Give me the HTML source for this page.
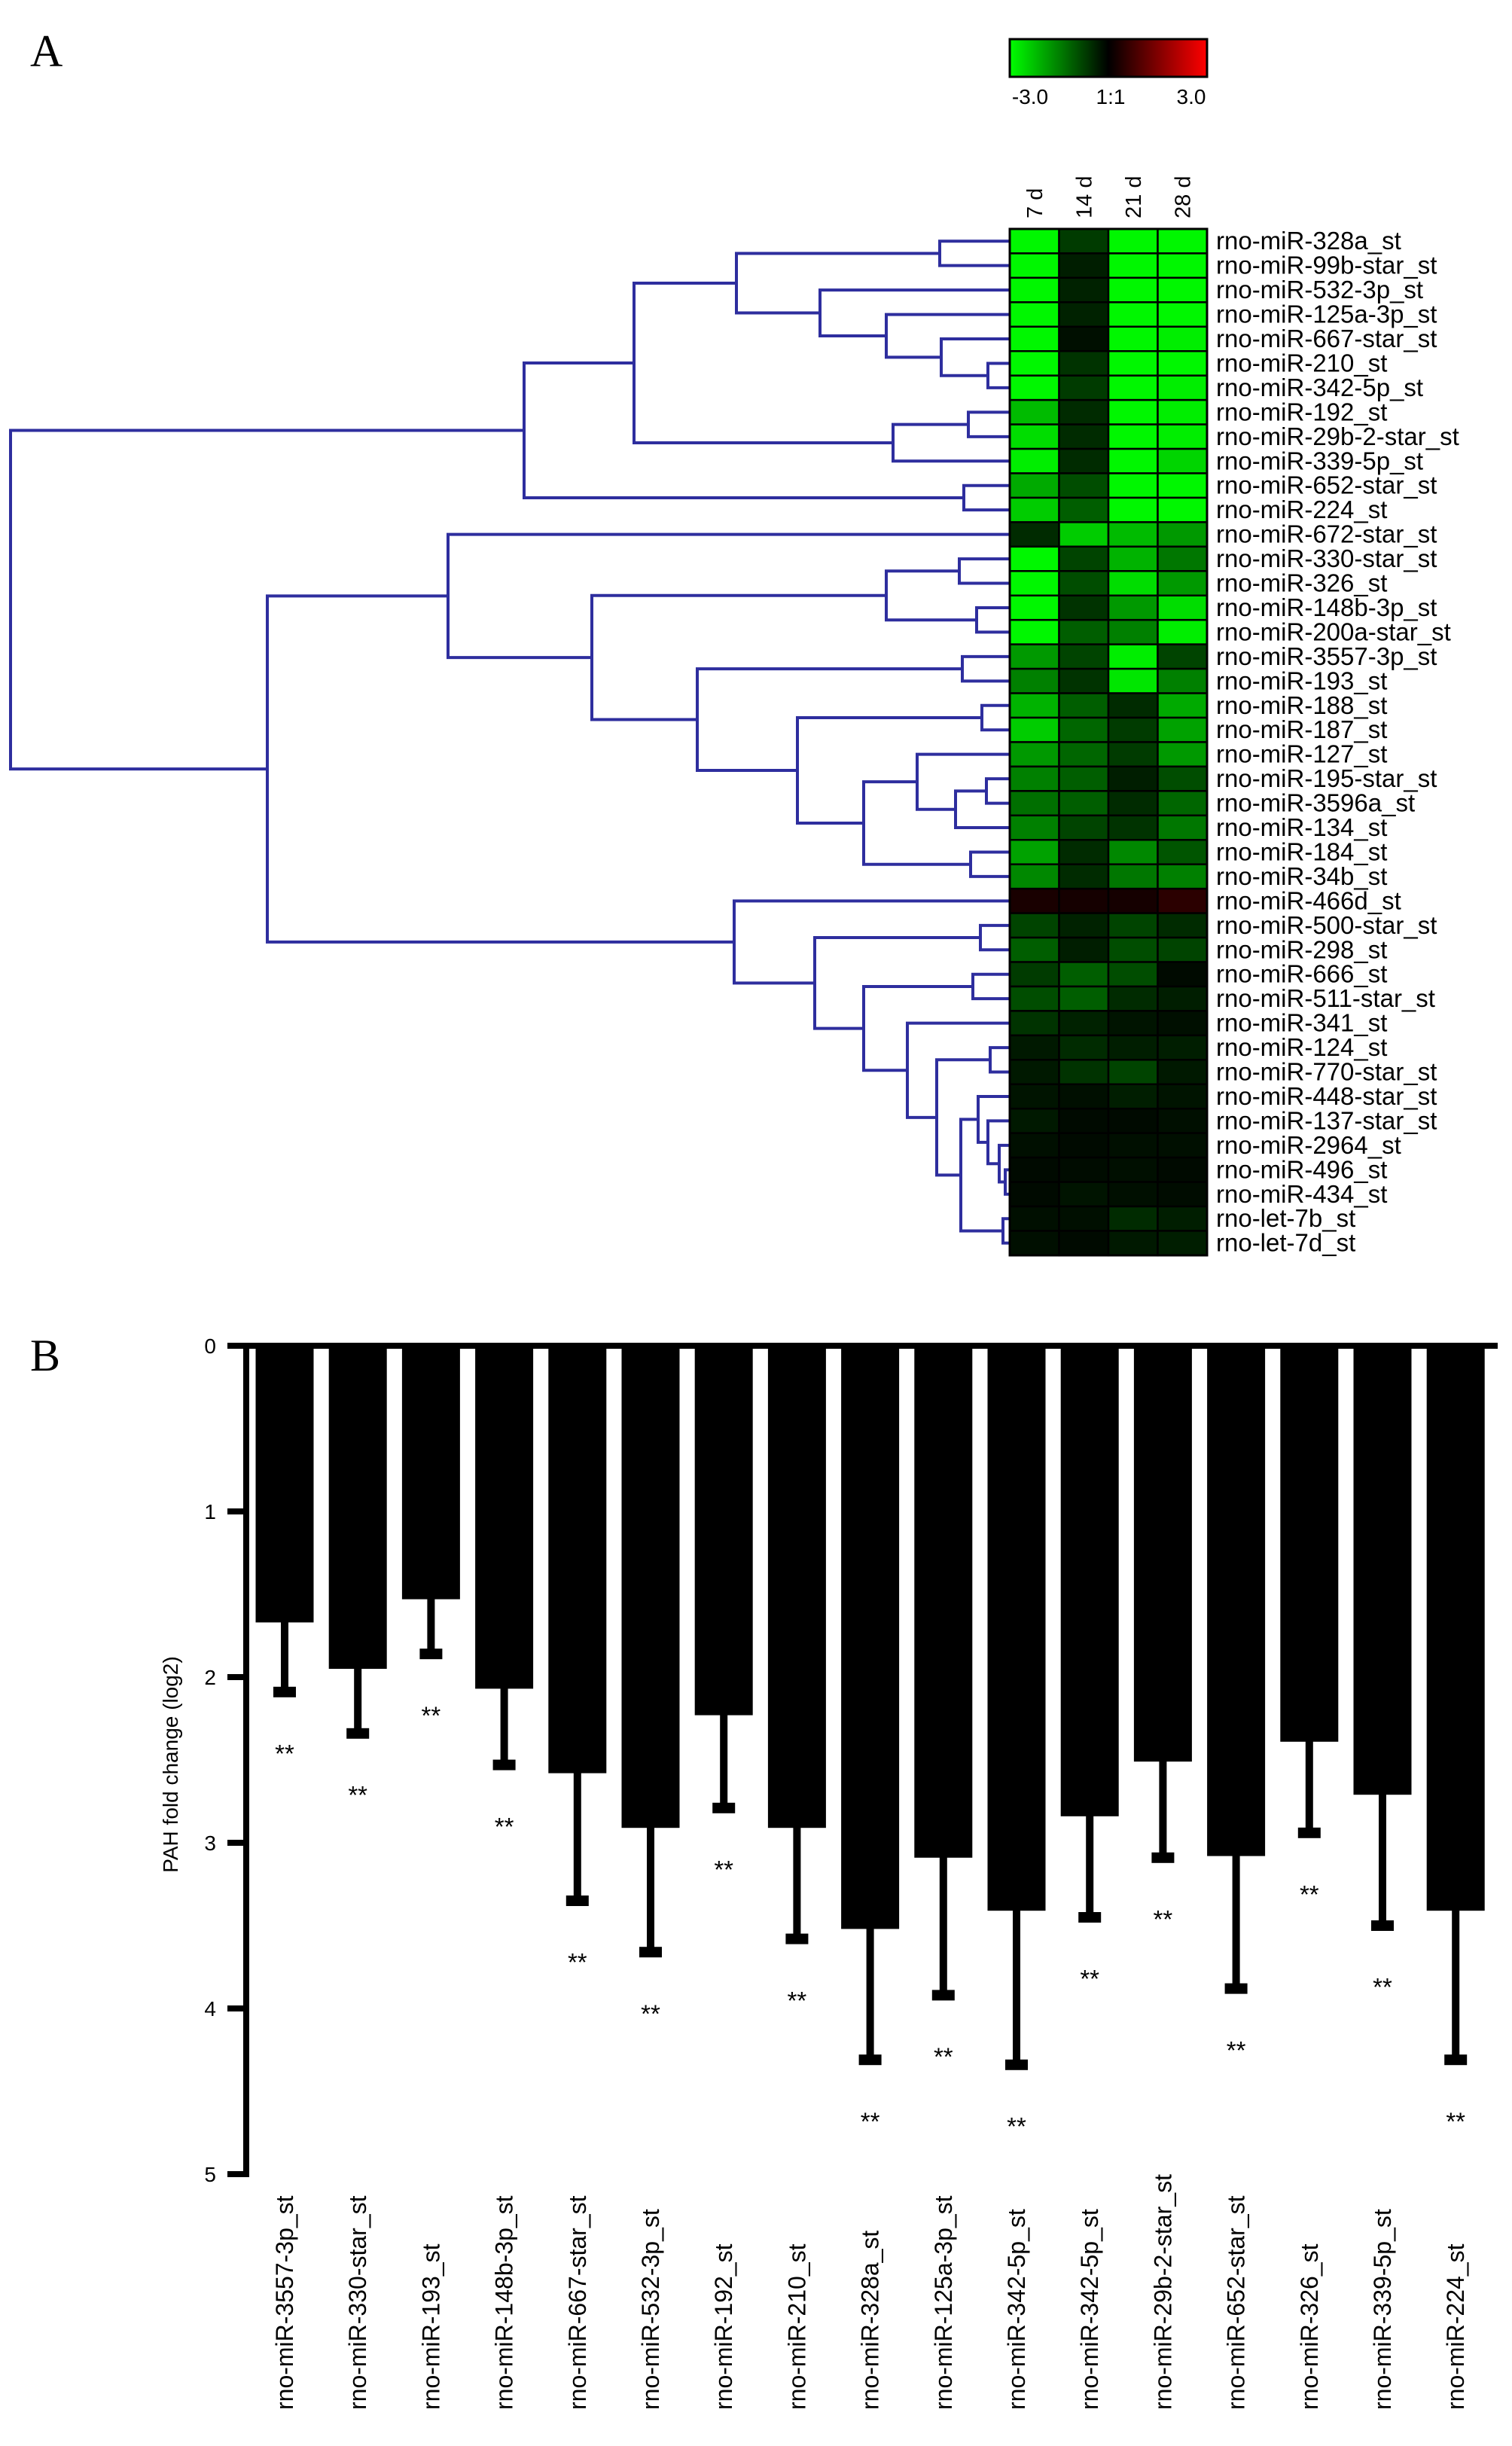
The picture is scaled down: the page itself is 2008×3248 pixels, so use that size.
<!DOCTYPE html>
<html><head><meta charset="utf-8"><style>
html,body{margin:0;padding:0;background:#fff;}
svg{display:block;font-family:"Liberation Sans",sans-serif;}
</style></head><body>
<svg id="fig" width="2008" height="3248" viewBox="0 0 2008 3248" xmlns="http://www.w3.org/2000/svg">
<defs><linearGradient id="cb" x1="0" x2="1" y1="0" y2="0"><stop offset="0" stop-color="#00ff00"/><stop offset="0.5" stop-color="#000"/><stop offset="1" stop-color="#ff0000"/></linearGradient></defs>
<text x="40" y="88" font-family="Liberation Serif" font-size="60">A</text>
<text x="40" y="1820" font-family="Liberation Serif" font-size="60">B</text>
<g>
<rect x="1341" y="52" width="262" height="50" fill="url(#cb)" stroke="#000" stroke-width="3"/>
<text x="1368" y="138" font-size="28" text-anchor="middle">-3.0</text>
<text x="1475" y="138" font-size="28" text-anchor="middle">1:1</text>
<text x="1582" y="138" font-size="28" text-anchor="middle">3.0</text>
</g>
<g id="dendro"></g>
<g id="heat"></g>
<g id="bars"></g>
</svg>
<script>
const NS="http://www.w3.org/2000/svg";
// ---- heatmap data ----
const timepoints=["7 d","14 d","21 d","28 d"];
const mirnas=["rno-miR-328a_st","rno-miR-99b-star_st","rno-miR-532-3p_st","rno-miR-125a-3p_st","rno-miR-667-star_st","rno-miR-210_st","rno-miR-342-5p_st","rno-miR-192_st","rno-miR-29b-2-star_st","rno-miR-339-5p_st","rno-miR-652-star_st","rno-miR-224_st","rno-miR-672-star_st","rno-miR-330-star_st","rno-miR-326_st","rno-miR-148b-3p_st","rno-miR-200a-star_st","rno-miR-3557-3p_st","rno-miR-193_st","rno-miR-188_st","rno-miR-187_st","rno-miR-127_st","rno-miR-195-star_st","rno-miR-3596a_st","rno-miR-134_st","rno-miR-184_st","rno-miR-34b_st","rno-miR-466d_st","rno-miR-500-star_st","rno-miR-298_st","rno-miR-666_st","rno-miR-511-star_st","rno-miR-341_st","rno-miR-124_st","rno-miR-770-star_st","rno-miR-448-star_st","rno-miR-137-star_st","rno-miR-2964_st","rno-miR-496_st","rno-miR-434_st","rno-let-7b_st","rno-let-7d_st"];
const ratio7d=[-2.9,-2.9,-2.9,-2.9,-2.9,-2.9,-2.9,-2.2,-2.6,-2.8,-2.0,-2.4,-0.5,-2.9,-2.9,-2.9,-2.9,-1.8,-1.5,-2.1,-2.4,-1.8,-1.5,-1.3,-1.5,-1.9,-1.6,0.3,-0.8,-1.1,-0.7,-0.9,-0.6,-0.3,-0.3,-0.24,-0.3,-0.18,-0.12,-0.12,-0.18,-0.18];
const ratio14d=[-0.7,-0.35,-0.4,-0.4,-0.18,-0.6,-0.7,-0.5,-0.5,-0.5,-0.9,-1.1,-2.4,-0.8,-0.9,-0.6,-1.1,-0.8,-0.6,-1.1,-1.2,-1.2,-1.1,-1.1,-0.8,-0.5,-0.5,0.25,-0.4,-0.35,-1.1,-1.1,-0.4,-0.5,-0.6,-0.18,-0.12,-0.12,-0.14,-0.24,-0.18,-0.12];
const ratio21d=[-2.9,-2.9,-2.9,-2.9,-2.9,-2.9,-2.9,-2.9,-2.9,-2.9,-2.9,-2.9,-2.2,-2.1,-2.6,-1.8,-1.5,-2.8,-2.7,-0.5,-0.7,-0.7,-0.35,-0.5,-0.6,-1.6,-1.4,0.25,-0.8,-0.9,-0.9,-0.5,-0.24,-0.35,-0.8,-0.35,-0.12,-0.18,-0.18,-0.18,-0.5,-0.3];
const ratio28d=[-2.9,-2.9,-2.9,-2.9,-2.8,-2.9,-2.8,-2.8,-2.8,-2.5,-2.9,-2.9,-1.8,-1.4,-1.8,-2.6,-2.8,-0.8,-1.5,-2.0,-1.9,-1.8,-0.9,-1.2,-1.4,-1.0,-1.5,0.5,-0.5,-0.8,-0.12,-0.35,-0.18,-0.35,-0.3,-0.24,-0.18,-0.18,-0.12,-0.14,-0.35,-0.35];
const ratioCols=[ratio7d,ratio14d,ratio21d,ratio28d];
// dendrogram merges: [height-x, left, right]
const tree=[14,
 [696,[842,[978,[1248,0,1],[1089,2,[1177,3,[1250,4,[1312,5,6]]]]],[1186,[1286,7,8],9]],[1280,10,11]],
 [355,
  [595,12,[786,[1177,[1274,13,14],[1297,15,16]],[926,[1278,17,18],[1059,[1304,19,20],[1147,[1218,21,[1269,[1310,22,23],24]],[1289,25,26]]]]]],
  [975,27,[1082,[1302,28,29],[1147,[1292,30,31],[1205,32,[1244,[1315,33,34],[1276,[1299,35,[1312,36,[1327,37,[1335,38,39]]]],[1332,40,41]]]]]]]]];
// ---- bar chart data ----
const barLabels=["rno-miR-3557-3p_st","rno-miR-330-star_st","rno-miR-193_st","rno-miR-148b-3p_st","rno-miR-667-star_st","rno-miR-532-3p_st","rno-miR-192_st","rno-miR-210_st","rno-miR-328a_st","rno-miR-125a-3p_st","rno-miR-342-5p_st","rno-miR-342-5p_st","rno-miR-29b-2-star_st","rno-miR-652-star_st","rno-miR-326_st","rno-miR-339-5p_st","rno-miR-224_st"];
const foldChange=[1.67,1.95,1.53,2.07,2.58,2.91,2.23,2.91,3.52,3.09,3.41,2.84,2.51,3.08,2.39,2.71,3.41];
const errTop=[2.09,2.34,1.86,2.53,3.35,3.66,2.79,3.58,4.31,3.92,4.34,3.45,3.09,3.88,2.94,3.50,4.31];
const yTicks=[0,1,2,3,4,5];

function el(tag,attrs,parent){const e=document.createElementNS(NS,tag);for(const k in attrs)e.setAttribute(k,attrs[k]);parent.appendChild(e);return e;}

// heatmap
const hm=document.getElementById('heat');
const hx0=1341,hy0=304,cw=65.5,rh=32.45;
function cellColor(v){const t=Math.min(1,Math.abs(v)/3);const c=Math.round(255*t);return v<0?`rgb(0,${c},0)`:`rgb(${c},0,0)`;}
const rowY=i=>hy0+rh*(i+0.5);
ratioCols.forEach((col,j)=>{
  const t=el('text',{x:hx0+cw*(j+0.5)+10,y:290,'font-size':29,transform:`rotate(-90 ${hx0+cw*(j+0.5)+10} 290)`},hm);
  
  
  t.textContent=timepoints[j];
  col.forEach((v,i)=>{
    const r=el('rect',{x:hx0+cw*j,y:hy0+rh*i,width:cw,height:rh,fill:cellColor(v),stroke:'#000','stroke-width':2.5},hm);
    
    
  });
});
el('rect',{x:hx0,y:hy0,width:cw*4,height:rh*42,fill:'none',stroke:'#000','stroke-width':3},hm);
mirnas.forEach((m,i)=>{
  const t=el('text',{x:1615,y:rowY(i)+11,'font-size':33},hm);
  
  
  t.textContent=m;
});
// dendrogram
const dg=document.getElementById('dendro');
function draw(n){
  if(typeof n==='number') return {x:hx0,y:rowY(n)};
  const a=draw(n[1]),b=draw(n[2]),x=n[0];
  const p=el('path',{d:`M${a.x},${a.y}H${x}V${b.y}H${b.x}`,fill:'none',stroke:'#2e2e9e','stroke-width':4},dg);
  
  
  return {x:x,y:(a.y+b.y)/2};
}
draw(tree);

// bar chart
const bg=document.getElementById('bars');
const y0=1787,unit=220,ax=327,cx0=378,pitch=97.2,bw=77;
const yS=v=>y0+v*unit, xS=i=>cx0+pitch*i;
foldChange.forEach((v,i)=>{
  const cx=xS(i);
  const r=el('rect',{x:cx-bw/2,y:y0,width:bw,height:yS(v)-y0,fill:'#000'},bg);
  
  
  const s=el('rect',{x:cx-5,y:yS(v)-1,width:10,height:yS(errTop[i])-yS(v)+1,fill:'#000'},bg);
  
  
  const c=el('rect',{x:cx-15,y:yS(errTop[i])-7,width:30,height:14,fill:'#000'},bg);
  
  
  const st=el('text',{x:cx,y:yS(errTop[i])+0.36*unit+14,'font-size':33,'text-anchor':'middle'},bg);
  
  
  st.textContent='**';
  const lx=cx+11,ly=3200;
  const lb=el('text',{x:lx,y:ly,'font-size':32,'text-anchor':'start',transform:`rotate(-90 ${lx} ${ly})`},bg);
  
  
  lb.textContent=barLabels[i];
});
const ya=el('rect',{x:ax-4,y:y0-4,width:8,height:yS(5)-y0+8,fill:'#000'},bg);


const xa=el('rect',{x:302,y:y0-4,width:1687,height:8,fill:'#000'},bg);


yTicks.forEach(v=>{
  const t=el('rect',{x:302,y:yS(v)-4,width:25,height:8,fill:'#000'},bg);
  
  
  const l=el('text',{x:287,y:yS(v)+10,'font-size':28,'text-anchor':'end'},bg);
  
  
  l.textContent=v;
});
const yt=el('text',{x:236,y:2343,'font-size':28,'text-anchor':'middle',transform:'rotate(-90 236 2343)'},bg);


yt.textContent='PAH fold change (log2)';
</script>
</body></html>
